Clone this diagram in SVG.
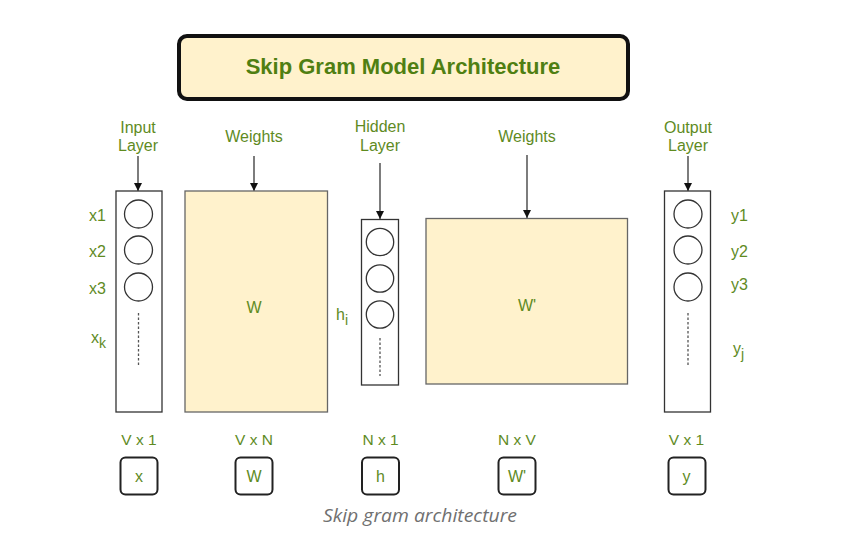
<svg xmlns="http://www.w3.org/2000/svg" width="846" height="546" viewBox="0 0 846 546">
<defs>
<style>
.lbl{font-family:"Liberation Sans",Arial,sans-serif;font-size:16px;fill:#5f8b1f;text-anchor:middle}
.side{font-family:"Liberation Sans",Arial,sans-serif;font-size:16px;fill:#5f8b1f}
.dim{font-family:"Liberation Sans",Arial,sans-serif;font-size:15.5px;fill:#5f8b1f;text-anchor:middle}
.kl{font-family:"Liberation Sans",Arial,sans-serif;font-size:16px;fill:#5f8b1f;text-anchor:middle}
.col{fill:#ffffff;stroke:#333333;stroke-width:1.3}
.mat{fill:#fff2cc;stroke:#666666;stroke-width:1.3}
.neu{fill:#ffffff;stroke:#333333;stroke-width:1.3}
.dash{stroke:#555555;stroke-width:1.3;stroke-dasharray:2.5 2}
.key{fill:#ffffff;stroke:#222222;stroke-width:2}
.arr{stroke:#111111;stroke-width:1.1;fill:none;marker-end:url(#ah)}
</style>
<marker id="ah" viewBox="0 0 10 10" refX="10" refY="5" markerWidth="8" markerHeight="8" markerUnits="userSpaceOnUse" orient="auto">
<path d="M0,0 L10,5 L0,10 Z" fill="#111111"/>
</marker>
</defs>
<rect width="846" height="546" fill="#ffffff"/>

<g id="title">
<rect x="179" y="36" width="449" height="63" rx="8" fill="#fff2cc" stroke="#111111" stroke-width="4"/>
<text x="403" y="74" font-family="Liberation Sans,Arial,sans-serif" font-size="22" font-weight="bold" fill="#4f7f12" text-anchor="middle">Skip Gram Model Architecture</text>
</g>

<g id="connectors">
<line class="arr" x1="138" y1="156" x2="138" y2="191"/>
<line class="arr" x1="254" y1="156" x2="254" y2="191"/>
<line class="arr" x1="380" y1="163" x2="380" y2="219"/>
<line class="arr" x1="527" y1="155" x2="527" y2="218"/>
<line class="arr" x1="688" y1="156" x2="688" y2="191"/>
</g>

<g id="input-layer">
<text class="lbl" x="138" y="133">Input</text>
<text class="lbl" x="138" y="151">Layer</text>
<rect class="col" x="116" y="191" width="46" height="221"/>
<circle class="neu" cx="138.5" cy="214" r="14"/>
<circle class="neu" cx="138.5" cy="250" r="14"/>
<circle class="neu" cx="138.5" cy="287" r="14"/>
<line class="dash" x1="138.5" y1="313" x2="138.5" y2="367"/>
<text class="side" x="89" y="221">x1</text>
<text class="side" x="89" y="257">x2</text>
<text class="side" x="89" y="294">x3</text>
<text class="side" x="91" y="343" font-size="18">x<tspan font-size="14" dy="5">k</tspan></text>
</g>

<g id="weights-w">
<text class="lbl" x="254" y="142">Weights</text>
<rect class="mat" x="185" y="191" width="142.5" height="221"/>
<text class="lbl" x="254" y="313">W</text>
</g>

<g id="hidden-layer">
<text class="lbl" x="380" y="132">Hidden</text>
<text class="lbl" x="380" y="151">Layer</text>
<rect class="col" x="361.5" y="219.5" width="37" height="165.5"/>
<circle class="neu" cx="380" cy="242" r="13.7"/>
<circle class="neu" cx="380" cy="278.5" r="13.7"/>
<circle class="neu" cx="380" cy="314.5" r="13.7"/>
<line class="dash" x1="380" y1="338" x2="380" y2="376"/>
<text class="side" x="336" y="320" font-size="18">h<tspan font-size="14" dy="5">i</tspan></text>
</g>

<g id="weights-w2">
<text class="lbl" x="527" y="142">Weights</text>
<rect class="mat" x="426" y="218.5" width="201.5" height="165.5"/>
<text class="lbl" x="527" y="311">W'</text>
</g>

<g id="output-layer">
<text class="lbl" x="688" y="133">Output</text>
<text class="lbl" x="688" y="151">Layer</text>
<rect class="col" x="664.5" y="191" width="46" height="221"/>
<circle class="neu" cx="688" cy="214" r="14"/>
<circle class="neu" cx="688" cy="250" r="14"/>
<circle class="neu" cx="688" cy="287" r="14"/>
<line class="dash" x1="688" y1="313" x2="688" y2="367"/>
<text class="side" x="731" y="221">y1</text>
<text class="side" x="731" y="257">y2</text>
<text class="side" x="731" y="290">y3</text>
<text class="side" x="733" y="354" font-size="18">y<tspan font-size="14" dy="5">j</tspan></text>
</g>

<g id="key-x">
<text class="dim" x="139" y="445">V x 1</text>
<rect class="key" x="120.5" y="457.5" width="37" height="37" rx="5"/>
<text class="kl" x="139" y="482">x</text>
</g>
<g id="key-w">
<text class="dim" x="254" y="445">V x N</text>
<rect class="key" x="235.5" y="457.5" width="37" height="37" rx="5"/>
<text class="kl" x="254" y="482">W</text>
</g>
<g id="key-h">
<text class="dim" x="380.5" y="445">N x 1</text>
<rect class="key" x="362" y="457.5" width="37" height="37" rx="5"/>
<text class="kl" x="380.5" y="482">h</text>
</g>
<g id="key-w2">
<text class="dim" x="517" y="445">N x V</text>
<rect class="key" x="498.5" y="457.5" width="37" height="37" rx="5"/>
<text class="kl" x="517" y="482">W'</text>
</g>
<g id="key-y">
<text class="dim" x="686.5" y="445">V x 1</text>
<rect class="key" x="668.5" y="457.5" width="37" height="37" rx="5"/>
<text class="kl" x="686.5" y="482">y</text>
</g>

<text x="420" y="522" font-family="Open Sans,sans-serif" font-size="18" font-style="italic" fill="#707070" text-anchor="middle" textLength="194" lengthAdjust="spacingAndGlyphs">Skip gram architecture</text>
</svg>
